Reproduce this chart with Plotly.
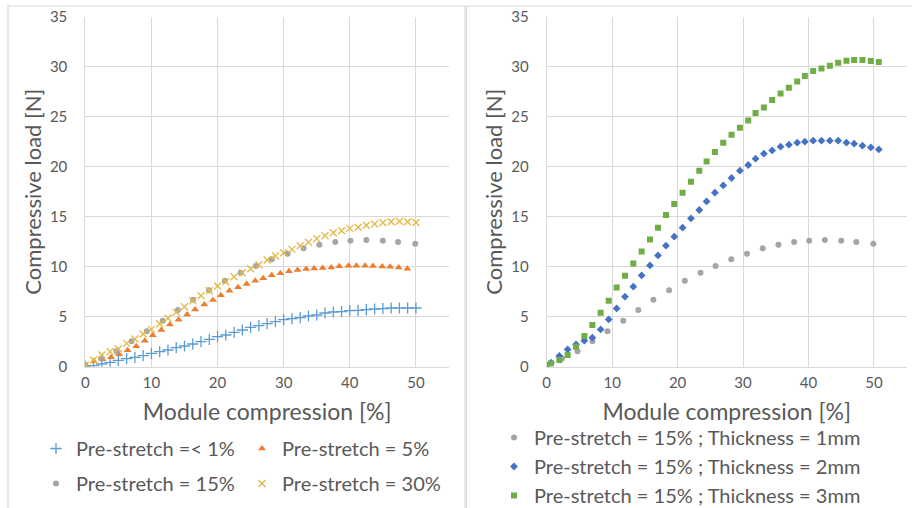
import plotly.graph_objects as go

# ---------------- data ----------------
# Left chart
x_ps1 = [0, 1.25, 2.5, 3.75, 5, 6.25, 7.5, 8.75, 10, 11.25, 12.5, 13.75, 15, 16.25, 17.5, 18.75,
         20, 21.25, 22.5, 23.75, 25, 26.25, 27.5, 28.75, 30, 31.25, 32.5, 33.75, 35, 36.25, 37.5,
         38.75, 40, 41.25, 42.5, 43.75, 45, 46.25, 47.5, 48.75, 50]
y_ps1 = [0.07, 0.1, 0.27, 0.43, 0.63, 0.8, 0.93, 1.1, 1.33, 1.5, 1.67, 1.9, 2.07, 2.27, 2.5, 2.73,
         3.0, 3.17, 3.43, 3.67, 3.93, 4.1, 4.3, 4.5, 4.7, 4.8, 4.9, 5.07, 5.17, 5.37, 5.47,
         5.5, 5.6, 5.63, 5.7, 5.77, 5.8, 5.87, 5.87, 5.87, 5.87]

x_ps5 = [0, 1.3, 2.6, 3.9, 5.1, 6.4, 7.7, 9.0, 10.2, 11.5, 12.8, 14.1, 15.4, 16.6, 18.0, 19.3,
         20.5, 21.8, 23.1, 24.4, 25.7, 26.9, 28.2, 29.5, 30.8, 32.1, 33.4, 34.6, 35.9, 37.2,
         38.4, 39.8, 41.0, 42.3, 43.5, 44.9, 46.1, 47.4, 48.7]
y_ps5 = [0.2, 0.55, 0.75, 0.95, 1.25, 1.65, 2.05, 2.6, 3.15, 3.67, 4.22, 4.7, 5.23, 5.73, 6.23,
         6.67, 7.15, 7.6, 7.95, 8.27, 8.6, 8.85, 9.15, 9.35, 9.55, 9.67, 9.77, 9.82, 9.87, 9.92,
         10.05, 10.1, 10.1, 10.1, 10.07, 10.03, 10.0, 9.93, 9.8]

x_ps15 = [0, 2.37, 4.7, 7.0, 9.3, 11.7, 14.0, 16.3, 18.7, 21.1, 23.5, 25.8, 28.2, 30.6, 33.0,
          35.4, 37.8, 40.1, 42.5, 45.0, 47.3, 49.9]
y_ps15 = [0.17, 0.83, 1.55, 2.55, 3.55, 4.6, 5.67, 6.7, 7.65, 8.6, 9.4, 10.07, 10.75, 11.3, 11.85,
          12.2, 12.47, 12.6, 12.67, 12.6, 12.47, 12.3]

x_ps30 = [0, 1.25, 2.5, 3.75, 5, 6.25, 7.5, 8.75, 10, 11.25, 12.5, 13.75, 15, 16.25, 17.5, 18.75,
          20, 21.25, 22.5, 23.75, 25, 26.25, 27.5, 28.75, 30, 31.25, 32.5, 33.75, 35, 36.25, 37.5,
          38.75, 40, 41.25, 42.5, 43.75, 45, 46.25, 47.5, 48.75, 50]
y_ps30 = [0.17, 0.67, 1.17, 1.5, 1.8, 2.33, 2.77, 3.27, 3.73, 4.3, 4.85, 5.45, 6.0, 6.6, 7.1, 7.6,
          8.07, 8.5, 9.0, 9.4, 9.8, 10.2, 10.67, 11.07, 11.4, 11.73, 12.1, 12.45, 12.8, 13.1, 13.4,
          13.6, 13.83, 13.95, 14.15, 14.27, 14.4, 14.5, 14.55, 14.5, 14.42]

# Right chart
x_t1 = x_ps15
y_t1 = y_ps15

x_t23 = [0, 0.66, 1.93, 3.2, 4.48, 5.75, 6.97, 8.24, 9.47, 10.69, 11.96, 13.23, 14.5, 15.78, 17.0,
         18.22, 19.49, 20.76, 22.04, 23.31, 24.43, 25.7, 26.97, 28.24, 29.52, 30.79, 31.91, 33.18,
         34.45, 35.73, 37.0, 38.27, 39.44, 40.71, 41.98, 43.26, 44.53, 45.8, 46.97, 48.24, 49.52,
         50.74]
y_t2 = [0.1, 0.4, 1.07, 1.73, 2.23, 2.6, 2.9, 3.73, 4.73, 5.83, 7.0, 8.0, 9.13, 10.13, 11.13, 12.1,
        13.0, 13.9, 14.83, 15.67, 16.53, 17.4, 18.13, 18.87, 19.6, 20.17, 20.8, 21.3, 21.63, 22.0,
        22.2, 22.4, 22.5, 22.6, 22.6, 22.6, 22.6, 22.4, 22.3, 22.1, 21.93, 21.73]
y_t3 = [0.0, 0.33, 0.67, 1.17, 2.0, 3.07, 4.17, 5.4, 6.6, 7.93, 9.1, 10.33, 11.53, 12.73, 13.9,
        15.17, 16.27, 17.4, 18.5, 19.6, 20.53, 21.47, 22.4, 23.2, 23.9, 24.63, 25.37, 25.93, 26.67,
        27.33, 27.9, 28.53, 29.07, 29.57, 29.83, 30.1, 30.4, 30.6, 30.67, 30.67, 30.57, 30.47]

names_left = ["Pre-stretch =< 1%", "Pre-stretch = 5%", "Pre-stretch = 15%", "Pre-stretch = 30%"]
names_right = ["Pre-stretch = 15% ; Thickness = 1mm",
               "Pre-stretch = 15% ; Thickness = 2mm",
               "Pre-stretch = 15% ; Thickness = 3mm"]
x_ticks = [0, 10, 20, 30, 40, 50]
y_ticks = [0, 5, 10, 15, 20, 25, 30, 35]

# ---------------- styling ----------------
FONT = "Lato"
TXT = "#595959"
GRID = "#D9D9D9"
W, H = 912, 508

fig = go.Figure()

def sc(x, y, name, xa, ya, legend, group, marker):
    fig.add_trace(go.Scatter(x=x, y=y, name=name, mode="markers", xaxis=xa, yaxis=ya,
                             legend=legend, legendgroup=group, marker=marker,
                             hoverinfo="x+y+name"))

sc(x_ps1, y_ps1, names_left[0], "x", "y", "legend", "a",
   dict(symbol="cross-thin", size=8, color="#5B9BD5", line=dict(width=1.3, color="#5B9BD5")))
sc(x_ps5, y_ps5, names_left[1], "x", "y", "legend2", "b",
   dict(symbol="triangle-up", size=7, color="#ED7D31"))
sc(x_ps15, y_ps15, names_left[2], "x", "y", "legend", "c",
   dict(symbol="circle", size=6, color="#A5A5A5"))
sc(x_ps30, y_ps30, names_left[3], "x", "y", "legend2", "d",
   dict(symbol="x-thin", size=7, color="#E3B846", line=dict(width=1.3, color="#E3B846")))

sc(x_t1, y_t1, names_right[0], "x2", "y2", "legend3", "e",
   dict(symbol="circle", size=6, color="#A5A5A5"))
sc(x_t23, y_t2, names_right[1], "x2", "y2", "legend3", "f",
   dict(symbol="diamond", size=6, color="#4472C4"))
sc(x_t23, y_t3, names_right[2], "x2", "y2", "legend3", "g",
   dict(symbol="square", size=6, color="#70AD47"))

def px(v):
    return v / W

def py(v):
    return 1 - v / H

axis_common = dict(showgrid=True, gridcolor=GRID, gridwidth=1, zeroline=False,
                   showline=True, linecolor=GRID, linewidth=1, ticks="", automargin=False,
                   tickfont=dict(family=FONT, size=15, color=TXT))

xa = dict(axis_common, range=[0, 55], tickvals=x_ticks, ticklabelstandoff=2,
          title=dict(text="Module compression [%]", font=dict(family=FONT, size=23, color=TXT),
                     standoff=14))
ya = dict(axis_common, range=[0, 35], tickvals=y_ticks, ticklabelstandoff=14,
          title=dict(text="Compressive load [N]", font=dict(family=FONT, size=22, color=TXT),
                     standoff=2))

leg_font = dict(family=FONT, size=20, color=TXT)

fig.update_layout(
    width=W, height=H,
    margin=dict(l=0, r=0, t=0, b=0, autoexpand=False),
    paper_bgcolor="white", plot_bgcolor="white",
    showlegend=True,
    xaxis=dict(xa, domain=[px(85.3), px(449)], anchor="y"),
    yaxis=dict(ya, domain=[py(366.7), py(16.7)], anchor="x"),
    xaxis2=dict(xa, domain=[px(546.7), px(906.7)], anchor="y2"),
    yaxis2=dict(ya, domain=[py(366.7), py(16.7)], anchor="x2"),
    legend=dict(x=px(36), y=py(429), xanchor="left", yanchor="top", font=leg_font,
                traceorder="grouped", tracegroupgap=6, bgcolor="rgba(0,0,0,0)",
                itemclick=False, itemdoubleclick=False),
    legend2=dict(x=px(242), y=py(429), xanchor="left", yanchor="top", font=leg_font,
                 traceorder="grouped", tracegroupgap=6, bgcolor="rgba(0,0,0,0)",
                 itemclick=False, itemdoubleclick=False),
    legend3=dict(x=px(494), y=py(418), xanchor="left", yanchor="top", font=leg_font,
                 traceorder="grouped", tracegroupgap=0, bgcolor="rgba(0,0,0,0)",
                 itemclick=False, itemdoubleclick=False),
    shapes=[
        dict(type="rect", xref="paper", yref="paper", x0=px(8), x1=px(465), y0=-0.05, y1=py(6),
             line=dict(color=GRID, width=1.2), fillcolor="rgba(0,0,0,0)", layer="below"),
        dict(type="rect", xref="paper", yref="paper", x0=px(466.5), x1=1.05, y0=-0.05, y1=py(6),
             line=dict(color=GRID, width=1.2), fillcolor="rgba(0,0,0,0)", layer="below"),
    ],
)

fig.write_html("out.html", config={"displayModeBar": False},
               post_script="document.body.style.margin='0';")
